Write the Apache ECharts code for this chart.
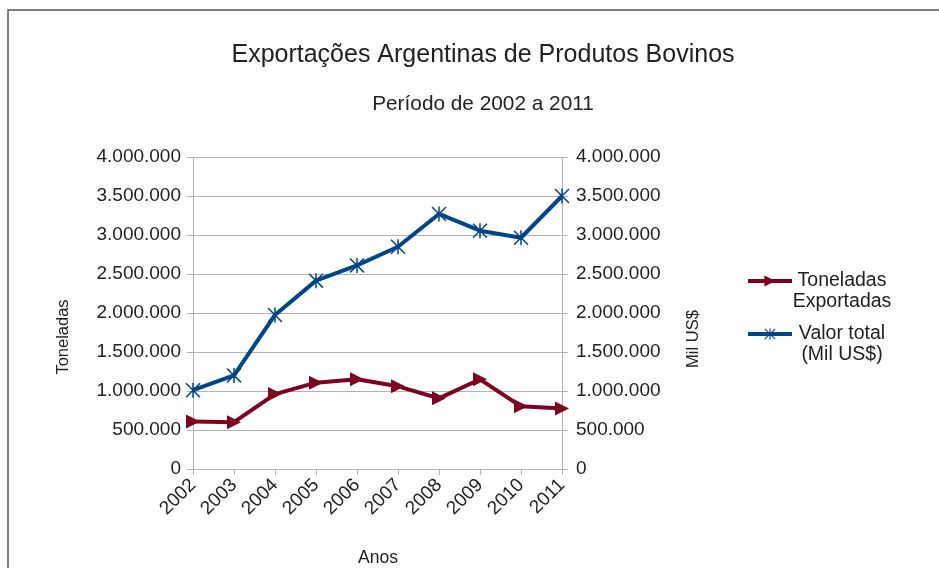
<!DOCTYPE html>
<html>
<head>
<meta charset="utf-8">
<script src="https://cdn.jsdelivr.net/npm/echarts@6/dist/echarts.min.js"></script>
<style>
  html, body { margin: 0; padding: 0; background: #fff; }
  #chart { width: 939px; height: 568px; }
</style>
</head>
<body>
<div id="chart"></div>
<script>
// Anos do período
const anos = ['2002', '2003', '2004', '2005', '2006', '2007', '2008', '2009', '2010', '2011'];
// Toneladas exportadas por ano
const toneladas = [610000, 600000, 960000, 1107000, 1150000, 1060000, 906000, 1150000, 803000, 777000];
// Valor total em mil US$ por ano
const valorTotal = [1010000, 1200000, 1975000, 2415000, 2610000, 2850000, 3270000, 3055000, 2965000, 3500000];

const corToneladas = '#7e0021';
const corValor = '#004586';
const corTexto = '#222222';
const corEixo = '#b3b3b3';
const fonte = '"Liberation Sans", Arial, sans-serif';

// Marcador asterisco (barra vertical + duas diagonais)
const asterisco = 'path://M9 0 L11 0 L11 20 L9 20 Z M0 1.4 L1.4 0 L20 18.6 L18.6 20 Z M18.6 0 L20 1.4 L1.4 20 L0 18.6 Z';
// Marcador triângulo apontando para a direita
const trianguloDir = 'path://M0 0 L20 10 L0 20 Z';

const fmtMilhar = v => String(Math.round(v)).replace(/\B(?=(\d{3})+(?!\d))/g, '.');

const eixoY = (pos) => ({
  type: 'value',
  position: pos,
  min: 0,
  max: 4000000,
  interval: 500000,
  axisLine: { show: true, lineStyle: { color: corEixo, width: 1 } },
  axisTick: { show: true, length: 6, lineStyle: { color: corEixo } },
  axisLabel: { color: corTexto, fontSize: 19, fontFamily: fonte, margin: pos === 'left' ? 12 : 14, formatter: fmtMilhar },
  splitLine: { show: pos === 'left', lineStyle: { color: corEixo, width: 1 } }
});

const textoEixo = (texto, x, y, tam, girar) => ({
  type: 'text',
  x: x, y: y,
  rotation: girar ? Math.PI / 2 : 0,
  silent: true,
  style: {
    text: texto, fill: corTexto, fontSize: tam, fontFamily: fonte,
    align: 'center', verticalAlign: 'middle'
  }
});

const chart = echarts.init(document.getElementById('chart'), null, { renderer: 'canvas' });

chart.setOption({
  backgroundColor: '#ffffff',
  animation: false,
  textStyle: { fontFamily: fonte },
  title: [
    {
      text: 'Exportações Argentinas de Produtos Bovinos',
      left: 478, top: 38, textAlign: 'center',
      textStyle: { color: corTexto, fontSize: 25, fontWeight: 'normal', fontFamily: fonte }
    },
    {
      text: 'Período de 2002 a 2011',
      left: 478, top: 89, textAlign: 'center',
      textStyle: { color: corTexto, fontSize: 20.8, fontWeight: 'normal', fontFamily: fonte }
    }
  ],
  graphic: [
    {
      type: 'rect',
      shape: { x: 8, y: 10, width: 1200, height: 1000 },
      style: { fill: 'none', stroke: '#555', lineWidth: 1.5 },
      silent: true
    },
    textoEixo('Toneladas', 63, 337, 16.5, true),
    textoEixo('Mil US$', 693, 339, 16.5, true),
    textoEixo('Anos', 378, 558, 17.5, false)
  ],
  legend: {
    orient: 'vertical',
    left: 746,
    top: 250,
    padding: 0,
    itemGap: -9,
    itemWidth: 44,
    itemHeight: 14,
    lineStyle: { width: 4 },
    data: ['Toneladas Exportadas', 'Valor total (Mil US$)'],
    formatter: nome => nome === 'Toneladas Exportadas'
      ? '{e| }\n{a|Toneladas}\n{b|Exportadas}'
      : '{e| }\n{a|Valor total}\n{b|(Mil US$)}',
    textStyle: {
      color: corTexto, fontSize: 19.5, fontFamily: fonte,
      rich: {
        e: { width: 90, fontSize: 19.5, lineHeight: 10, fontFamily: fonte },
        a: { width: 90, align: 'center', fontSize: 19.5, lineHeight: 32, color: corTexto, fontFamily: fonte },
        b: { width: 90, align: 'center', fontSize: 19.5, lineHeight: 10, color: corTexto, fontFamily: fonte }
      }
    }
  },
  grid: { left: 193, right: 377, top: 157, bottom: 99, outerBoundsMode: 'none', containLabel: false },
  xAxis: {
    type: 'category',
    data: anos,
    boundaryGap: false,
    axisLine: { show: true, lineStyle: { color: corEixo, width: 1 } },
    axisTick: { show: true, length: 6, alignWithLabel: true, lineStyle: { color: corEixo } },
    axisLabel: { color: corTexto, fontSize: 19, fontFamily: fonte, rotate: 45, margin: 13 },
    splitLine: { show: false }
  },
  yAxis: [eixoY('left'), eixoY('right')],
  series: [
    {
      name: 'Toneladas Exportadas',
      type: 'line',
      yAxisIndex: 0,
      data: toneladas,
      color: corToneladas,
      symbol: trianguloDir,
      symbolSize: [14, 14],
      showAllSymbol: true,
      lineStyle: { color: corToneladas, width: 4 },
      itemStyle: { color: corToneladas, borderWidth: 0 }
    },
    {
      name: 'Valor total (Mil US$)',
      type: 'line',
      yAxisIndex: 1,
      data: valorTotal,
      color: corValor,
      symbol: asterisco,
      symbolSize: [15, 15],
      showAllSymbol: true,
      lineStyle: { color: corValor, width: 4 },
      itemStyle: { color: corValor, borderWidth: 0 }
    }
  ]
});
</script>
</body>
</html>
